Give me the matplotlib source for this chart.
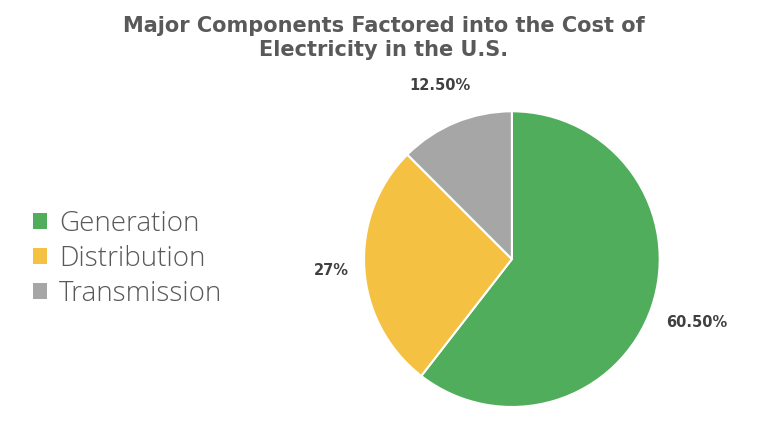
import numpy as np
import matplotlib.pyplot as plt
from matplotlib.patches import Patch

components = ["Generation", "Distribution", "Transmission"]
shares = [60.5, 27.0, 12.5]
pct_labels = ["60.50%", "27%", "12.50%"]
colors = ["#4fad5b", "#f5c142", "#a6a6a6"]

fig = plt.figure(figsize=(7.68, 4.46), dpi=100)
fig.patch.set_facecolor("white")

fig.text(0.5, 0.965, "Major Components Factored into the Cost of\nElectricity in the U.S.",
         ha="center", va="top", fontsize=15, fontweight="bold", color="#595959",
         linespacing=1.25)

ax = fig.add_axes([0.474, 0.087, 0.385, 0.664])
wedges, _ = ax.pie(shares, colors=colors, startangle=90, counterclock=False,
                   wedgeprops=dict(edgecolor="white", linewidth=1.5))
ax.set_xlim(-1.0, 1.0)
ax.set_ylim(-1.0, 1.0)

# percentage labels outside the pie
dists = [1.32, 1.22, 1.27]
for w, lab, d in zip(wedges, pct_labels, dists):
    ang = np.deg2rad((w.theta1 + w.theta2) / 2)
    ax.text(d * np.cos(ang), d * np.sin(ang), lab, ha="center", va="center",
            fontsize=10.5, fontweight="bold", color="#404040", clip_on=False)

handles = [Patch(facecolor=c, label=n) for c, n in zip(colors, components)]
leg = fig.legend(handles=handles, loc="center left", bbox_to_anchor=(0.01, 0.42),
                 frameon=False, fontsize=20, handlelength=0.5, handleheight=0.5,
                 handletextpad=0.45, labelspacing=0.25,
                 prop={"family": "Open Sans", "size": 20, "weight": "light"})
for t in leg.get_texts():
    t.set_color("#595959")

fig.savefig("out.png", dpi=100)
